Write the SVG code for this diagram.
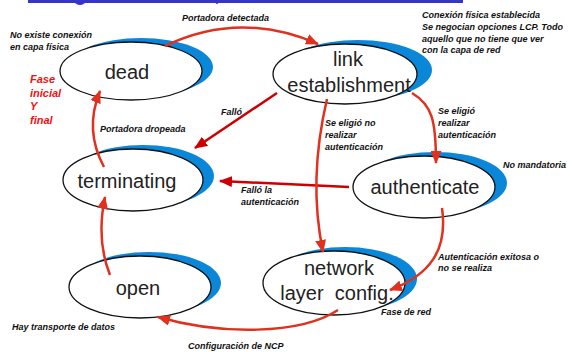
<svg xmlns="http://www.w3.org/2000/svg" width="574" height="352" viewBox="0 0 574 352">
<defs>
<marker id="ah" markerUnits="userSpaceOnUse" markerWidth="13" markerHeight="11" refX="12" refY="5.5" orient="auto"><path d="M0,0 L13,5.5 L0,11 z" fill="#e0301e"/></marker>
<marker id="ahd" markerUnits="userSpaceOnUse" markerWidth="13" markerHeight="11" refX="12" refY="5.5" orient="auto"><path d="M0,0 L13,5.5 L0,11 z" fill="#cc0000"/></marker>
</defs>
<style>
.sh{fill:#0b87d9}
.el{fill:#fff;stroke:#111;stroke-width:1.3}
.lb{font-family:"Liberation Sans",Arial,sans-serif;font-size:20px;fill:#222;text-anchor:middle;white-space:pre}
.an{font-family:"Liberation Sans",Arial,sans-serif;font-size:9px;font-weight:bold;font-style:italic;fill:#111}
.rd{font-family:"Liberation Sans",Arial,sans-serif;font-size:11px;font-weight:bold;font-style:italic;fill:#ee1111}
.c{fill:none;stroke:#e0301e;stroke-width:2.5;marker-end:url(#ah)}
.cd{fill:none;stroke:#cc0000;stroke-width:2.5;marker-end:url(#ahd)}
</style>
<rect x="28" y="0" width="435" height="3" fill="#3535c8"/>
<ellipse cx="80" cy="2" rx="5" ry="3" fill="#3535c8"/>
<ellipse cx="217" cy="2" rx="1.5" ry="2" fill="#3535c8"/>

<g id="dead">
<ellipse class="sh" cx="141" cy="67" rx="72" ry="29"/>
<ellipse class="el" cx="131" cy="71" rx="71" ry="29"/>
<text class="lb" x="127" y="79">dead</text>
</g>
<g id="link">
<ellipse class="sh" cx="358" cy="70" rx="74" ry="30"/>
<ellipse class="el" cx="345" cy="74" rx="72" ry="30"/>
<text class="lb" x="348" y="66">link</text>
<text class="lb" x="349" y="92">establishment</text>
</g>
<g id="terminating">
<ellipse class="sh" cx="143" cy="176" rx="71" ry="31"/>
<ellipse class="el" cx="133" cy="180" rx="70" ry="31"/>
<text class="lb" x="127" y="188">terminating</text>
</g>
<g id="authenticate">
<ellipse class="sh" cx="435" cy="183" rx="72" ry="31"/>
<ellipse class="el" cx="424" cy="187" rx="71" ry="31"/>
<text class="lb" x="425" y="194">authenticate</text>
</g>
<g id="open">
<ellipse class="sh" cx="149" cy="283" rx="72" ry="31"/>
<ellipse class="el" cx="140" cy="287" rx="71" ry="31"/>
<text class="lb" x="138" y="295">open</text>
</g>
<g id="network">
<ellipse class="sh" cx="345" cy="279" rx="72" ry="32"/>
<ellipse class="el" cx="334" cy="283" rx="71" ry="32"/>
<text class="lb" x="339" y="275">network</text>
<text class="lb" x="337" y="300">layer  config.</text>
</g>

<g id="connectors">
<path class="c" d="M165,46 Q240,10 318,44"/>
<path class="cd" d="M277,93 L195,148"/>
<path class="c" d="M104,167 Q84,130 100,91"/>
<path class="c" d="M110,275 Q96,240 105,197"/>
<path class="cd" d="M349,187 L220,181"/>
<path class="c" d="M327,99 Q308,180 323,252"/>
<path class="c" d="M412,93 C432,105 436,120 436,163"/>
<path class="c" d="M442,208 C448,250 430,275 390,290"/>
<path class="c" d="M338,310 C300,335 220,335 158,317"/>
</g>

<g id="labels">
<text class="an" x="182" y="21">Portadora detectada</text>
<text class="an" x="10" y="38">No existe conexión</text>
<text class="an" x="10" y="50">en capa física</text>
<text class="rd" x="30" y="83">Fase</text>
<text class="rd" x="30" y="97">inicial</text>
<text class="rd" x="30" y="110">Y</text>
<text class="rd" x="30" y="124">final</text>
<text class="an" x="422" y="18">Conexión física establecida</text>
<text class="an" x="422" y="30">Se negocian opciones LCP. Todo</text>
<text class="an" x="422" y="42">aquello que no tiene que ver</text>
<text class="an" x="422" y="53">con la capa de red</text>
<text class="an" x="221" y="115">Falló</text>
<text class="an" x="100" y="132">Portadora dropeada</text>
<text class="an" x="325" y="126">Se eligió no</text>
<text class="an" x="325" y="138">realizar</text>
<text class="an" x="325" y="150">autenticación</text>
<text class="an" x="438" y="114">Se eligió</text>
<text class="an" x="438" y="126">realizar</text>
<text class="an" x="438" y="138">autenticación</text>
<text class="an" x="503" y="168">No mandatoria</text>
<text class="an" x="241" y="193">Falló la</text>
<text class="an" x="241" y="205">autenticación</text>
<text class="an" x="438" y="260">Autenticación exitosa o</text>
<text class="an" x="438" y="271">no se realiza</text>
<text class="an" x="381" y="315">Fase de red</text>
<text class="an" x="12" y="330">Hay transporte de datos</text>
<text class="an" x="188" y="349">Configuración de NCP</text>
</g>
</svg>
